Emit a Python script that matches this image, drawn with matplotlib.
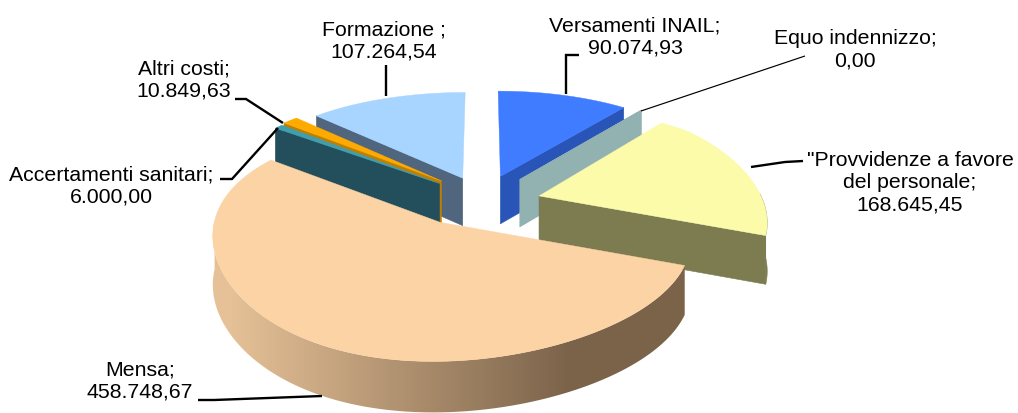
import numpy as np
import matplotlib
matplotlib.use("Agg")
import matplotlib.pyplot as plt
from matplotlib.patches import Polygon
from matplotlib.path import Path
from matplotlib.transforms import Transform, Affine2D
from matplotlib.colors import LinearSegmentedColormap

# ---- data ----
categories = ["Versamenti INAIL", "Equo indennizzo", "Provvidenze a favore del personale",
              "Mensa", "Accertamenti sanitari", "Altri costi", "Formazione"]
values = [90074.93, 0.00, 168645.45, 458748.67, 6000.00, 10849.63, 107264.54]
label_texts = ["Versamenti INAIL;\n90.074,93", "Equo indennizzo;\n0,00",
               "\"Provvidenze a favore\ndel personale;\n168.645,45", "Mensa;\n458.748,67",
               "Accertamenti sanitari;\n6.000,00", "Altri costi;\n10.849,63", "Formazione ;\n107.264,54"]

# ---- styles / layout ----
top_colors = ["#3F7CFF", "#92B1B1", "#FBFBA9", "#FCD3A5", "#3E9FB0", "#FFAA00", "#A7D5FF"]
side_colors = ["#2A55B8", "#92B1B1", "#7C7C50", "#7D654B", "#234E5C", "#C07F00", "#50667F"]
offsets = [(0.077, 0.257), (0.162, 0.226), (0.240, 0.066), (-0.179, -0.174),
           (-0.192, 0.185), (-0.184, 0.212), (-0.090, 0.239)]
draw_order = [6, 0, 1, 5, 4, 2, 3]
visible_cut = ["t1", "t1", "t1", None, "t2", "t2", "t2"]
CX, CY, A, B, P, Q0, Q1, S, D = 483, 204, 234, 108, 0.17, 0.15, 0.05, 0.035, 48
KNEE, KNEE_K = 205, 0.78
label_pos = [(635, 37), (855, 50), (910, 183), (140, 381), (111, 186), (184, 80), (384, 41)]
leaders = [[(566, 95), (566, 56), (579, 56)],
           [(641, 112), (805, 57)],
           [(751, 168), (785, 163), (803, 162)],
           [(322, 397), (214, 401), (198, 401)],
           [(278, 129), (232, 180), (220, 180)],
           [(283, 124), (246, 100), (235, 100)],
           [(386, 97), (386, 66)]]
leader_w = [2, 1, 2, 2, 2, 2, 2]


def project(X, Y, z=0.0):
    X, Y = np.asarray(X, float), np.asarray(Y, float)
    wx = 1 + (Q0 + Q1 * X) * Y
    wy = 1 + P * Y
    dx = A * (X + S * X * X) / wx
    dx = np.where(dx > KNEE, KNEE + (dx - KNEE) * KNEE_K, dx)
    y = CY - B * Y / wy + D * z / (1 + 0.05 * Y)
    return CX + dx, y


class PieProjection(Transform):
    input_dims = output_dims = 2
    is_affine = False

    def transform_non_affine(self, values):
        x, y = project(values[:, 0], values[:, 1])
        return np.column_stack([x, y])

    def transform_path_non_affine(self, path):
        polys = path.to_polygons(Affine2D().scale(2000), closed_only=False)
        v = np.vstack(polys) / 2000
        return Path(self.transform_non_affine(v))


fig = plt.figure(figsize=(10.18, 4.14), dpi=100)
ax = fig.add_axes([0, 0, 1, 1])
wedges, _ = ax.pie(values, startangle=90, counterclock=False, radius=1)
proj = PieProjection()
grad_cmap = LinearSegmentedColormap.from_list("rim", ["#E6C197", "#7B634A"])


def radial_face(c, t, color, z):
    X = [c[0], c[0] + np.cos(t), c[0] + np.cos(t), c[0]]
    Y = [c[1], c[1] + np.sin(t), c[1] + np.sin(t), c[1]]
    x, y = project(X, Y, np.array([0, 0, 1, 1]))
    ax.add_patch(Polygon(np.column_stack([x, y]), closed=True, fc=color, ec=color, lw=0.4, zorder=z))


for rank, i in enumerate(draw_order):
    w = wedges[i]
    c = offsets[i]
    w.set_center(c)
    w.set_zorder(rank * 10 + 5)
    w.set_facecolor(top_colors[i])
    w.set_edgecolor(top_colors[i])
    w.set_linewidth(0.3)
    w.set_transform(proj + ax.transData)
    w.set_clip_on(False)
    t1, t2 = np.radians(w.theta1), np.radians(w.theta2)
    base = rank * 10
    # curved outer wall, only where it faces the viewer
    ts = np.linspace(t1, t2, 240)
    ts = ts[np.sin(ts) <= 0.02]
    if len(ts) > 1:
        xt, yt = project(c[0] + np.cos(ts), c[1] + np.sin(ts), 0.0)
        xb, yb = project(c[0] + np.cos(ts), c[1] + np.sin(ts), 1.0)
        rim = np.column_stack([np.r_[xt, xb[::-1]], np.r_[yt, yb[::-1]]])
        if categories[i] == "Mensa":
            outline = Polygon(rim, closed=True, fc="none", ec="none", zorder=base + 1)
            ax.add_patch(outline)
            im = ax.imshow(np.linspace(0, 1, 256)[None, :], cmap=grad_cmap, vmin=0, vmax=1,
                           extent=(230, 570, 0, 414), aspect="auto", zorder=base + 1,
                           interpolation="bilinear")
            # extend the flat ends of the gradient beyond its ramp
            left = ax.imshow([[0.0]], cmap=grad_cmap, vmin=0, vmax=1, extent=(150, 230, 0, 414),
                             aspect="auto", zorder=base + 1)
            right = ax.imshow([[1.0]], cmap=grad_cmap, vmin=0, vmax=1, extent=(570, 760, 0, 414),
                              aspect="auto", zorder=base + 1)
            for m in (im, left, right):
                m.set_clip_path(outline)
        else:
            ax.add_patch(Polygon(rim, closed=True, fc=side_colors[i], ec=side_colors[i],
                                 lw=0.4, zorder=base + 1))
    # radial cut face turned toward the viewer
    if visible_cut[i]:
        radial_face(c, t1 if visible_cut[i] == "t1" else t2, side_colors[i], base + 2)

ax.set_aspect("auto")
ax.set_xlim(0, 1018)
ax.set_ylim(414, 0)
ax.axis("off")

for i in range(len(values)):
    pts = np.array(leaders[i])
    ax.plot(pts[:, 0], pts[:, 1], color="black", lw=leader_w[i] * 0.85, zorder=200,
            solid_capstyle="butt", solid_joinstyle="miter")
    ax.text(*label_pos[i], label_texts[i], ha="center", va="center", fontsize=15.3,
            family="Liberation Sans", color="black", linespacing=1.22, zorder=300)

fig.savefig("out.png", dpi=100, facecolor="white")
